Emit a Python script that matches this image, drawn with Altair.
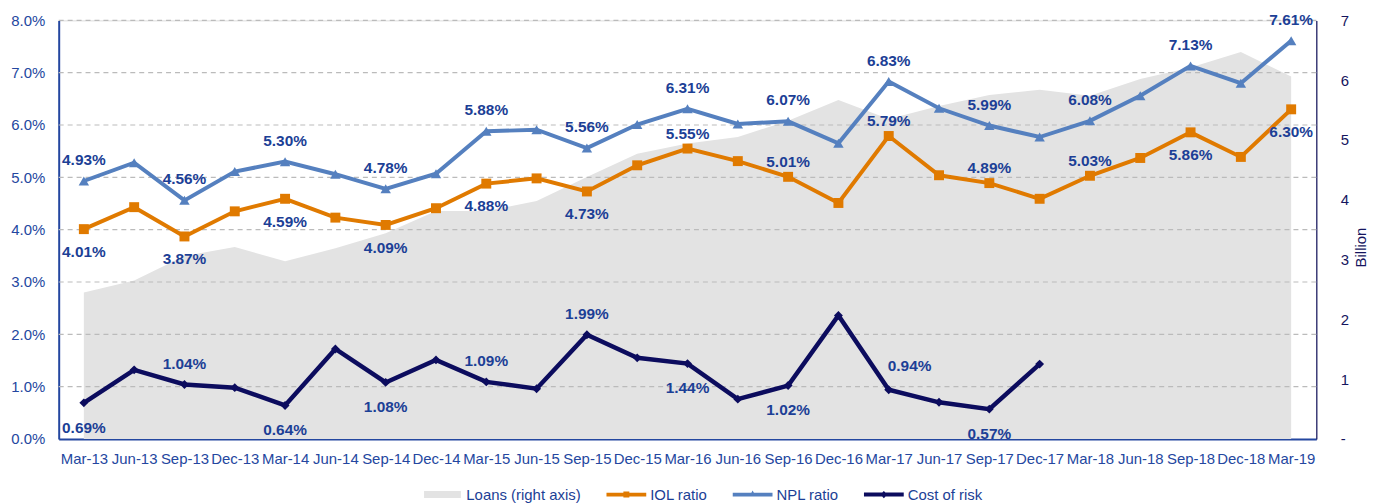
import altair as alt
import pandas as pd

periods = ["Mar-13", "Jun-13", "Sep-13", "Dec-13", "Mar-14", "Jun-14", "Sep-14", "Dec-14",
           "Mar-15", "Jun-15", "Sep-15", "Dec-15", "Mar-16", "Jun-16", "Sep-16", "Dec-16",
           "Mar-17", "Jun-17", "Sep-17", "Dec-17", "Mar-18", "Jun-18", "Sep-18", "Dec-18", "Mar-19"]

# Loans in billion (right axis)
loans = [2.45, 2.65, 3.06, 3.21, 2.97, 3.19, 3.44, 3.81, 3.81, 3.98, 4.38, 4.77, 4.94,
         5.05, 5.32, 5.67, 5.35, 5.57, 5.75, 5.84, 5.74, 6.02, 6.21, 6.47, 6.06]

# Ratios in percent (left axis)
iol = [4.01, 4.43, 3.87, 4.35, 4.59, 4.23, 4.09, 4.41, 4.88, 4.98, 4.73, 5.23, 5.55,
       5.31, 5.01, 4.51, 5.79, 5.04, 4.89, 4.59, 5.03, 5.37, 5.86, 5.39, 6.30]
npl = [4.93, 5.28, 4.56, 5.11, 5.30, 5.06, 4.78, 5.07, 5.88, 5.91, 5.56, 6.01, 6.31,
       6.02, 6.07, 5.65, 6.83, 6.32, 5.99, 5.77, 6.08, 6.56, 7.13, 6.80, 7.61]
cost_of_risk = [0.69, 1.32, 1.04, 0.98, 0.64, 1.72, 1.08, 1.51, 1.09, 0.96, 1.99, 1.55, 1.44,
                0.76, 1.02, 2.36, 0.94, 0.70, 0.57, 1.43]

series_names = ["Loans (right axis)", "IOL ratio", "NPL ratio", "Cost of risk"]
series_colors = ["#E3E3E3", "#E07A00", "#5580BF", "#0C0C5E"]

grid_values = [1, 2, 3, 4, 5, 6, 7, 8]

# labelled points
npl_above = ["Mar-13", "Sep-13", "Mar-14", "Sep-14", "Mar-15", "Sep-15", "Mar-16",
             "Sep-16", "Mar-17", "Sep-17", "Mar-18", "Sep-18", "Mar-19"]
iol_above = ["Mar-16", "Sep-16", "Mar-17", "Sep-17", "Mar-18"]
iol_below = ["Mar-13", "Sep-13", "Mar-14", "Sep-14", "Mar-15", "Sep-15", "Sep-18", "Mar-19"]
cor_above = ["Sep-13", "Mar-15", "Sep-15"]
cor_above_right = ["Mar-17"]
cor_below = ["Mar-13", "Mar-14", "Sep-14", "Mar-16", "Sep-16", "Sep-17"]

FONT = "Liberation Sans"
LABEL_BLUE = "#1C3F96"
AXIS_BLUE = "#2447A0"
NAVY = "#15155E"

loans_df = pd.DataFrame({"period": periods, "loans": loans})

rows = []
for name, vals in [("IOL ratio", iol), ("NPL ratio", npl), ("Cost of risk", cost_of_risk)]:
    for p, v in zip(periods, vals):
        rows.append({"period": p, "series": name, "value": v / 100.0})
ratio_df = pd.DataFrame(rows)

lab_rows = []
for name, vals, plist, pos in [("NPL ratio", npl, npl_above, "above"),
                               ("IOL ratio", iol, iol_above, "above"),
                               ("IOL ratio", iol, iol_below, "below"),
                               ("Cost of risk", cost_of_risk, cor_above, "above"),
                               ("Cost of risk", cost_of_risk, cor_above_right, "aboveright"),
                               ("Cost of risk", cost_of_risk, cor_below, "below")]:
    for p in plist:
        i = periods.index(p)
        lab_rows.append({"period": p, "series": name, "pos": pos, "value": vals[i] / 100.0})
label_df = pd.DataFrame(lab_rows)

grid_df = pd.DataFrame({"g": [g / 100.0 for g in grid_values]})
legend_df = pd.DataFrame({"series": series_names})

x_enc = alt.X(
    "period:O", sort=periods,
    scale=alt.Scale(type="point", padding=0.5),
    axis=alt.Axis(title=None, labelAngle=0, labelFont=FONT, labelFontSize=15,
                  labelColor=AXIS_BLUE, labelPadding=13, ticks=False, tickSize=0,
                  domainColor=AXIS_BLUE, domainWidth=2, labelOverlap=False,
                  labelFlush=False, grid=False),
)

y_scale = alt.Scale(domain=[0, 0.08], nice=False, zero=True)
y_axis = alt.Axis(title=None, format=".1%", values=[i / 100 for i in range(0, 9)],
                  labelFont=FONT, labelFontSize=15, labelColor=AXIS_BLUE,
                  labelPadding=14, ticks=False, tickSize=0, grid=False,
                  domainColor=AXIS_BLUE, domainWidth=2)


def y_enc(field):
    return alt.Y(field, scale=y_scale, axis=y_axis)


area = alt.Chart(loans_df).mark_area(color="#E3E3E3").encode(
    x=x_enc,
    y=alt.Y("loans:Q", scale=alt.Scale(domain=[0, 7], nice=False),
            axis=alt.Axis(orient="right", title="Billion", values=[0, 1, 2, 3, 4, 5, 6, 7],
                          labelExpr="datum.value == 0 ? '-' : datum.label",
                          labelFont=FONT, labelFontSize=15, labelColor=NAVY,
                          labelPadding=24, ticks=False, tickSize=0, grid=False,
                          domainColor=NAVY, domainWidth=1.2,
                          titleFont=FONT, titleFontSize=15, titleFontWeight="normal",
                          titleColor=NAVY, titleAngle=270, titleX=44, titleY=228,
                          titleAlign="center", titleBaseline="middle")),
)

grid = alt.Chart(grid_df).mark_rule(color="#BBBBBB", strokeWidth=1.2,
                                    strokeDash=[5, 4]).encode(y=y_enc("g:Q"))

color_scale = alt.Scale(domain=series_names, range=series_colors)


def line_layer(name, color, width):
    return alt.Chart(ratio_df).transform_filter(
        alt.datum.series == name
    ).mark_line(color=color, strokeWidth=width).encode(x=x_enc, y=y_enc("value:Q"))


def point_layer(name, color, shape, size):
    return alt.Chart(ratio_df).transform_filter(
        alt.datum.series == name
    ).mark_point(color=color, fill=color, filled=True, shape=shape, size=size,
                 opacity=1).encode(x=x_enc, y=y_enc("value:Q"))


def text_layer(name, pos, dy, dx=0):
    return alt.Chart(label_df).transform_filter(
        (alt.datum.series == name) & (alt.datum.pos == pos)
    ).mark_text(font=FONT, fontSize=15.5, fontWeight="bold", color=LABEL_BLUE,
                dy=dy, dx=dx, baseline="middle", align="center").encode(
        x=x_enc, y=y_enc("value:Q"), text=alt.Text("value:Q", format=".2%"))


legend_shapes = [
    "M-0.925,-0.175H0.925V0.175H-0.925Z",
    "M-1,-0.09H1V0.09H-1Z M-0.15,-0.15H0.15V0.15H-0.15Z",
    "M-1,-0.09H1V0.09H-1Z M0,-0.2L0.17,0.1H-0.17Z",
    "M-1,-0.1H1V0.1H-1Z M0,-0.18L0.18,0L0,0.18L-0.18,0Z",
]

legend_layer = alt.Chart(legend_df).mark_point(filled=True, opacity=0).encode(
    color=alt.Color("series:N", scale=color_scale, legend=alt.Legend(
        title=None, orient="none", legendX=366, legendY=457, direction="horizontal",
        columns=4, symbolSize=1600, symbolOpacity=1, symbolStrokeWidth=0,
        labelFont=FONT, labelFontSize=15, labelColor=LABEL_BLUE, labelOffset=4,
        columnPadding=25, padding=0)),
    shape=alt.Shape("series:N", scale=alt.Scale(domain=series_names, range=legend_shapes),
                    legend=None),
)

ratios = alt.layer(
    grid,
    line_layer("IOL ratio", "#E07A00", 4),
    line_layer("NPL ratio", "#5580BF", 4),
    line_layer("Cost of risk", "#0C0C5E", 4.5),
    point_layer("IOL ratio", "#E07A00", "square", 100),
    point_layer("NPL ratio", "#5580BF", "triangle-up", 110),
    point_layer("Cost of risk", "#0C0C5E", "diamond", 80),
    text_layer("NPL ratio", "above", -21),
    text_layer("IOL ratio", "above", -15),
    text_layer("IOL ratio", "below", 23),
    text_layer("Cost of risk", "above", -21),
    text_layer("Cost of risk", "aboveright", -24, 21),
    text_layer("Cost of risk", "below", 25),
    legend_layer,
)

chart = alt.layer(area, ratios).resolve_scale(y="independent").properties(
    width=1265, height=421,
    autosize=alt.AutoSizeParams(type="none"),
    padding={"left": 51, "top": 11, "right": 53, "bottom": 64},
).configure_view(stroke=None).configure(background="white")

chart.save("out.html", embed_options={"renderer": "svg", "actions": False})
